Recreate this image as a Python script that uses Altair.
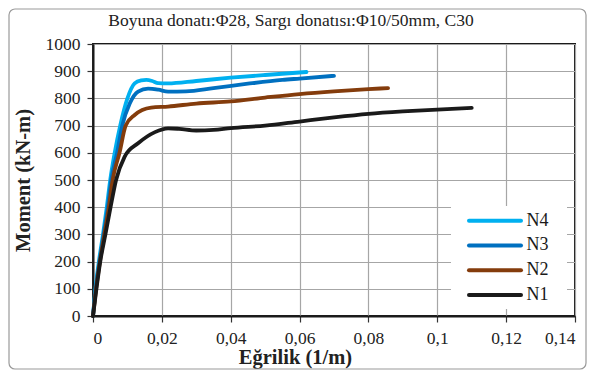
import altair as alt
import pandas as pd

# ---- data ----
series_names = ["N4", "N3", "N2", "N1"]
series_colors = ["#00B0F0", "#0070C0", "#843C0C", "#1A1A1A"]

n4_x = [0, 0.0007, 0.0017, 0.0029, 0.0040, 0.0050, 0.0063, 0.0079, 0.0100, 0.0121, 0.0140, 0.0155, 0.0172, 0.0189, 0.0218, 0.030, 0.040, 0.050, 0.062]
n4_y = [0, 100, 200, 300, 400, 500, 600, 700, 800, 855, 866, 868, 864, 856, 855, 864, 876, 886, 897]

n3_x = [0, 0.0008, 0.0019, 0.0031, 0.0043, 0.0053, 0.0070, 0.0085, 0.0107, 0.0131, 0.016, 0.019, 0.0218, 0.027, 0.035, 0.045, 0.055, 0.060, 0.070]
n3_y = [0, 100, 200, 300, 400, 500, 600, 700, 782, 825, 836, 832, 825, 826, 838, 854, 868, 873, 883]

n2_x = [0, 0.0009, 0.0020, 0.0033, 0.0046, 0.0057, 0.0077, 0.0095, 0.0121, 0.0169, 0.0218, 0.030, 0.040, 0.050, 0.060, 0.070, 0.080, 0.0857]
n2_y = [0, 100, 200, 300, 400, 500, 600, 700, 739, 766, 770, 781, 789, 803, 816, 826, 834, 838]

n1_x = [0, 0.0005, 0.0010, 0.0021, 0.0036, 0.0051, 0.0067, 0.0092, 0.0131, 0.018, 0.0218, 0.025, 0.030, 0.035, 0.040, 0.050, 0.060, 0.070, 0.080, 0.090, 0.100, 0.110]
n1_y = [0, 50, 100, 200, 300, 400, 500, 586, 635, 676, 690, 688, 682, 684, 691, 700, 715, 730, 743, 752, 759, 765]

x_ticks = [0, 0.02, 0.04, 0.06, 0.08, 0.10, 0.12, 0.14]
y_ticks = [0, 100, 200, 300, 400, 500, 600, 700, 800, 900, 1000]

title_text = "Boyuna donatı:Φ28, Sargı donatısı:Φ10/50mm, C30"
x_title = "Eğrilik (1/m)"
y_title = "Moment (kN-m)"

# ---- tables ----
rows = []
for name, xs, ys in [("N4", n4_x, n4_y), ("N3", n3_x, n3_y), ("N2", n2_x, n2_y), ("N1", n1_x, n1_y)]:
    for i, (a, b) in enumerate(zip(xs, ys)):
        rows.append({"series": name, "curv": a, "moment": b, "order": i})
df = pd.DataFrame(rows)
leg_df = pd.DataFrame({"series": series_names})

FONT = "Liberation Serif"
W, H = 482, 272

color_scale = alt.Scale(domain=series_names, range=series_colors)

frame = alt.Chart(leg_df).mark_rect(
    fill="white", fillOpacity=0, stroke="#9a9a9a", strokeWidth=1.2, cornerRadius=6, clip=False
).encode(
    x=alt.value(-84), x2=alt.value(493), y=alt.value(-35), y2=alt.value(325)
).transform_filter(alt.datum.series == "N4")

axis_style = dict(
    labelFont=FONT, labelFontSize=17.5, labelColor="#222222",
    titleFont=FONT, titleFontSize=20.5, titleFontWeight="bold", titleColor="#222222",
)

lines = alt.Chart(df).mark_line(interpolate="monotone", strokeWidth=3.8, strokeCap="round").encode(
    x=alt.X("curv:Q", title=x_title,
            scale=alt.Scale(domain=[0, 0.14], nice=False, zero=True),
            axis=alt.Axis(values=x_ticks,
                          labelExpr="replace(format(datum.value, '~g'), '.', ',')",
                          titleX=202, labelPadding=7, titlePadding=1, **axis_style)),
    y=alt.Y("moment:Q", title=y_title,
            scale=alt.Scale(domain=[0, 1000], nice=False),
            axis=alt.Axis(values=y_ticks, format="d", labelPadding=7, titlePadding=12, **axis_style)),
    color=alt.Color("series:N", scale=color_scale, legend=None),
    order="order:Q",
)

leg_y = alt.Y("series:N", sort=series_names,
              scale=alt.Scale(type="point", domain=series_names, range=[176.7, 251], padding=0),
              axis=None)

leg_bg = alt.Chart(leg_df).mark_rect(fill="white").encode(
    x=alt.value(358), x2=alt.value(474), y=alt.value(162), y2=alt.value(265)
).transform_filter(alt.datum.series == "N4")

leg_lines = alt.Chart(leg_df).mark_rule(strokeWidth=4, strokeCap="round").encode(
    x=alt.value(376), x2=alt.value(428), y=leg_y,
    color=alt.Color("series:N", scale=color_scale, legend=None),
)
leg_text = alt.Chart(leg_df).mark_text(align="left", baseline="middle", font=FONT, fontSize=18, color="#1a1a1a").encode(
    x=alt.value(433.5), y=leg_y, text="series:N"
)

chart = alt.layer(frame, lines, alt.layer(leg_bg, leg_lines, leg_text)).resolve_scale(
    y="independent"
).properties(
    width=W, height=H,
    autosize=alt.AutoSizeParams(type="none"),
    padding={"left": 85, "top": 36, "right": 12, "bottom": 54},
    title=alt.TitleParams(title_text, font=FONT, fontSize=17.5, fontWeight="normal",
                          color="#222222", anchor="middle", frame="group", dx=-43, offset=-21),
    background="white",
).configure_view(
    stroke="#1a1a1a", strokeWidth=2
).configure_axis(
    domainColor="#1a1a1a", domainWidth=2,
    tickColor="#333333", tickSize=6, tickWidth=1.2,
    gridColor="#a6a6a6", gridWidth=1.2,
)

chart.save("out.html", embed_options={"renderer": "svg", "actions": False})
